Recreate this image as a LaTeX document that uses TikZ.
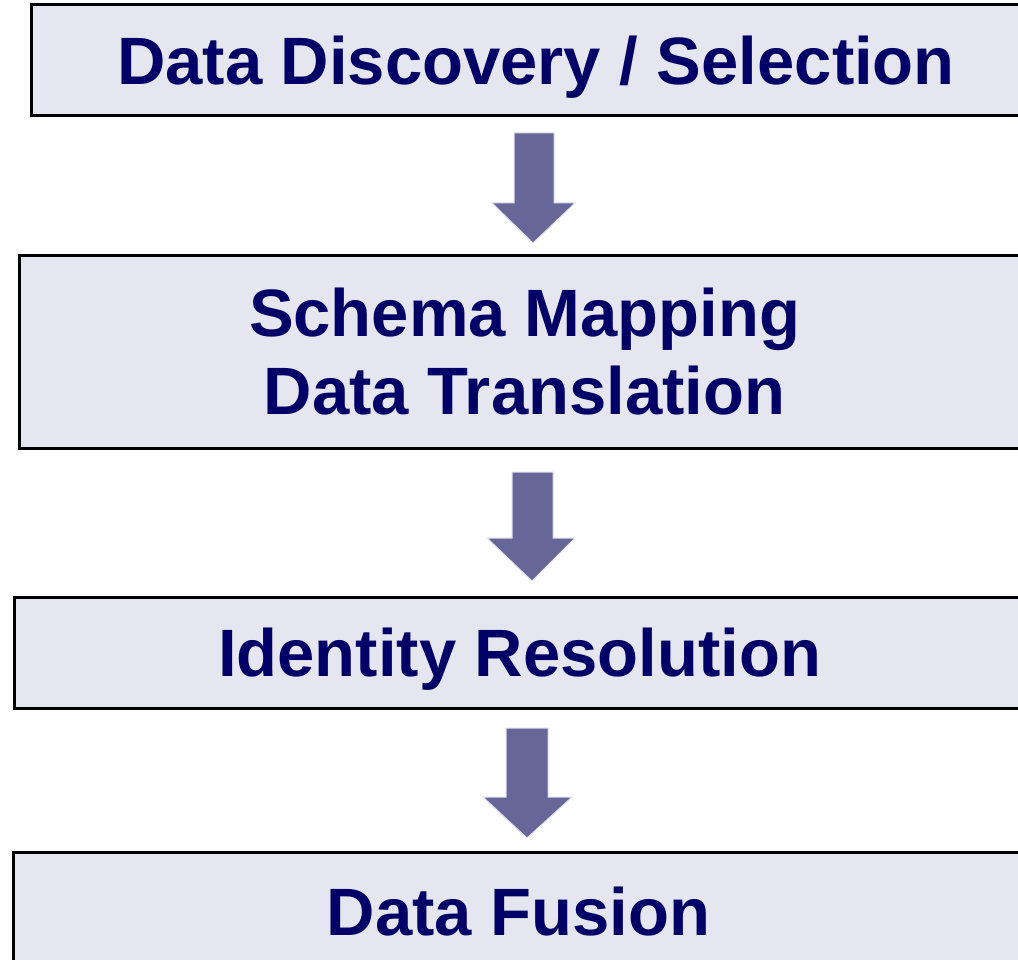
\documentclass[tikz,border=0pt]{standalone}
\usepackage{fontspec}
\setmainfont{Liberation Sans}
\definecolor{boxfill}{RGB}{230,230,240}
\definecolor{boxtext}{RGB}{0,0,102}
\definecolor{arrowfill}{RGB}{102,102,153}
\begin{document}
\begin{tikzpicture}[x=1pt,y=-1pt,
  stage/.style={draw=black, line width=3pt, fill=boxfill, anchor=north west,
    inner sep=0pt, outer sep=0pt, minimum width=1010pt,
    font=\fontsize{67}{78}\selectfont\bfseries, text=boxtext, align=center,
    text height=48pt, text depth=0pt},
  flow/.style={fill=arrowfill, draw=white!80!arrowfill, line width=1pt, line join=miter}]
  \useasboundingbox (0,0) rectangle (1018,960);

  % processing stages
  \node[stage, minimum height=111.5pt] (s1) at (31,4.5) {Data Discovery / Selection};
  \node[stage, minimum height=192.5pt, text height=126pt] (s2) at (19.5,255.5)
    {Schema Mapping\\Data Translation};
  \node[stage, minimum height=111pt] (s3) at (14.5,597) {Identity Resolution};
  \node[stage, minimum height=117pt] (s4) at (13.5,852.5) {Data Fusion};

  % block arrows between the stages
  \coordinate (a1) at (533,243);
  \coordinate (a2) at (532,581);
  \coordinate (a3) at (527,838);
  \draw[flow] (514,133) -- (554,133) -- (554,203) -- (575,203) -- (a1)
    -- (492,203) -- (514,203) -- cycle;
  \draw[flow] (512,472) -- (553,472) -- (553,538) -- (575,538) -- (a2)
    -- (487,538) -- (512,538) -- cycle;
  \draw[flow] (506,728) -- (548,728) -- (548,797) -- (572,797) -- (a3)
    -- (483,797) -- (506,797) -- cycle;
\end{tikzpicture}
\end{document}
